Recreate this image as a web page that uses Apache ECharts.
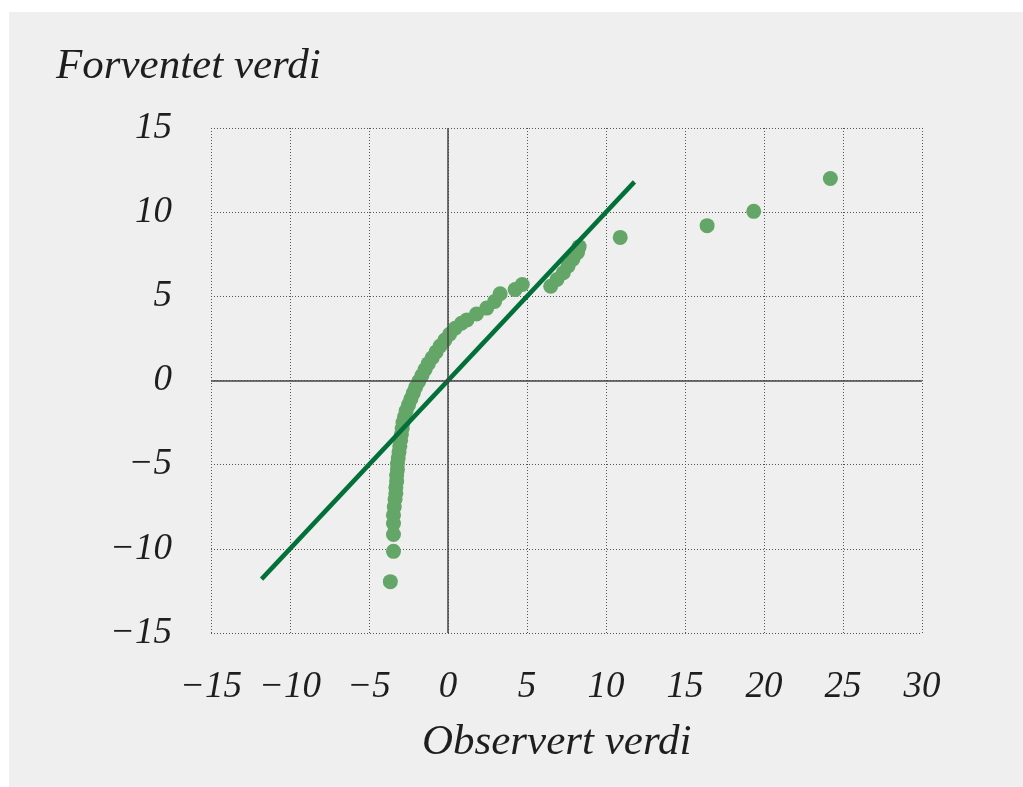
<!DOCTYPE html>
<html>
<head>
<meta charset="utf-8">
<script src="https://cdn.jsdelivr.net/npm/echarts@6/dist/echarts.min.js"></script>
<style>
  html, body { margin: 0; padding: 0; background: #ffffff; }
  #frame { position: absolute; left: 9px; top: 12px; right: 0; bottom: 0; background: #efefef; }
  #chart { position: absolute; left: 0; top: 0; width: 1023px; height: 787px; }
</style>
</head>
<body>
<div id="frame"></div>
<div id="chart"></div>
<script>
// Q-Q plott: observert verdi (x) mot forventet verdi (y)
const observed = [-3.65, -3.45, -3.45, -3.45, -3.45, -3.4, -3.35, -3.3, -3.3, -3.25,
  -3.25, -3.2, -3.2, -3.15, -3.1, -3.05, -3.0, -2.95, -2.9, -2.85,
  -2.75, -2.65, -2.5, -2.35, -2.2, -2.05, -1.85, -1.65, -1.45, -1.25,
  -1.0, -0.75, -0.5, -0.2, 0.1, 0.45, 0.85, 1.2, 1.8, 2.45,
  2.95, 3.3, 4.25, 4.7, 6.5, 6.9, 7.3, 7.6, 7.9, 8.2,
  8.3, 10.9, 16.4, 19.35, 24.2];
const expected = [-11.95, -10.15, -9.15, -8.5, -8.0, -7.5, -7.05, -6.7, -6.35, -6.0,
  -5.65, -5.3, -4.95, -4.6, -4.25, -3.9, -3.55, -3.2, -2.85, -2.5,
  -2.15, -1.8, -1.45, -1.1, -0.75, -0.4, -0.05, 0.3, 0.65, 1.0,
  1.35, 1.7, 2.05, 2.4, 2.75, 3.1, 3.4, 3.6, 3.95, 4.3,
  4.7, 5.15, 5.4, 5.7, 5.6, 6.0, 6.4, 6.8, 7.2, 7.6,
  7.95, 8.5, 9.2, 10.05, 12.0];
const refLineX = [-11.8, 11.8];
const refLineY = [-11.8, 11.8];

const font = '"Liberation Serif", "DejaVu Serif", serif';
const fmt = v => (v < 0 ? '\u2212' + Math.abs(v) : String(v));

const chart = echarts.init(document.getElementById('chart'));
chart.setOption({
  backgroundColor: 'transparent',
  animation: false,
  grid: { left: 211, right: 101, top: 128, bottom: 154 },
  xAxis: {
    type: 'value', min: -15, max: 30, interval: 5,
    axisLine: { show: false },
    axisTick: { show: false },
    axisLabel: { formatter: fmt, fontFamily: font, fontStyle: 'italic', fontSize: 37, color: '#1e1e1e', margin: 36 },
    splitLine: { show: true, lineStyle: { color: '#555', type: [1, 2], width: 1 } }
  },
  yAxis: {
    type: 'value', min: -15, max: 15, interval: 5,
    axisLine: { show: false },
    axisTick: { show: false },
    axisLabel: { formatter: fmt, fontFamily: font, fontStyle: 'italic', fontSize: 37, color: '#1e1e1e', margin: 39, padding: [8, 0, 0, 0] },
    splitLine: { show: true, lineStyle: { color: '#555', type: [1, 2], width: 1 } }
  },
  graphic: [
    { type: 'text', left: 56, top: 45, style: { text: 'Forventet verdi', font: 'italic 43px ' + font, fill: '#1e1e1e' } },
    { type: 'text', left: 422, top: 721, style: { text: 'Observert verdi', font: 'italic 43px ' + font, fill: '#1e1e1e' } }
  ],
  series: [
    {
      type: 'scatter',
      data: observed.map((x, i) => [x, expected[i]]),
      symbolSize: 15,
      itemStyle: { color: '#63a667', opacity: 1 },
      z: 3,
      markLine: {
        silent: true, symbol: 'none', label: { show: false },
        lineStyle: { color: '#444', type: 'solid', width: 1.5 },
        data: [{ xAxis: 0 }, { yAxis: 0 }]
      }
    },
    {
      type: 'line',
      data: refLineX.map((x, i) => [x, refLineY[i]]),
      symbol: 'none',
      lineStyle: { color: '#03703a', width: 4.5 },
      z: 4
    }
  ]
});
</script>
</body>
</html>
